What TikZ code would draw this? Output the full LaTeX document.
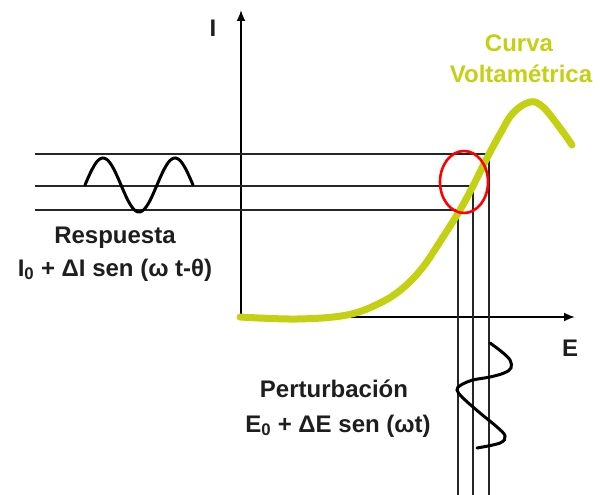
\documentclass[tikz,border=0pt]{standalone}
\usepackage{fontspec}
\setmainfont{Liberation Sans}
\usetikzlibrary{arrows.meta}
\definecolor{curvegreen}{RGB}{196,208,18}
\definecolor{txt}{RGB}{30,30,30}
\tikzset{
  guide/.style={line width=1.6pt, draw=black!85},
  axisline/.style={line width=1.8pt, draw=black, -{Latex[length=11pt,width=9pt]}},
  wave/.style={line width=3pt, draw=black, line cap=round},
  lbl/.style={font=\bfseries\fontsize{24}{30}\selectfont, text=txt, align=center, inner sep=0pt},
  glbl/.style={font=\bfseries\fontsize{24}{30}\selectfont, text=curvegreen, align=center, inner sep=0pt}
}
\begin{document}
\begin{tikzpicture}[x=1pt,y=-1pt]
\useasboundingbox (0,0) rectangle (600,495);
% axes
\coordinate (O) at (241,317);
\coordinate (Itop) at (241,10);
\coordinate (Eend) at (575,317);
\draw[axisline] (O) -- (Itop);
\draw[axisline] (O) -- (Eend);
\node[lbl, anchor=base] (Ilab) at (213,37) {I};
\node[lbl, anchor=base] (Elab) at (570,356) {E};
% guide lines
\coordinate (h1) at (35,154); \coordinate (c1) at (489,154); \coordinate (v1) at (489,495);
\coordinate (h2) at (35,186); \coordinate (c2) at (473,186); \coordinate (v2) at (473,495);
\coordinate (h3) at (35,210); \coordinate (c3) at (458,210); \coordinate (v3) at (458,495);
\draw[guide] (h1) -- (c1) -- (v1);
\draw[guide] (h2) -- (c2) -- (v2);
\draw[guide] (h3) -- (c3) -- (v3);
% response sine
\draw[wave] plot[domain=0:540, samples=80, variable=\t] ({85+\t/5},{185-27*sin(\t)});
% perturbation wave
\draw[wave] plot[smooth, tension=0.6] coordinates {(490,343) (502,352) (510,360) (511,368) (504,373) (490,377) (473,380) (461,385) (457,390) (463,398) (480,413) (497,427) (505,436) (500,443) (477,448)};
% voltammetric curve
\draw[line width=7pt, draw=curvegreen, line cap=round] plot[smooth, tension=0.6] coordinates {(240,317) (297,319) (347,315) (380,303) (403,288) (423,267) (443,237) (460,210) (473,186) (488,156) (500,134) (513,113) (530,102) (543,107) (560,128) (572,145)};
% red ellipse
\draw[red, line width=2.6pt] (464,182) ellipse [x radius=24, y radius=31];
% labels
\node[glbl, anchor=base] (curva) at (519,52) {Curva};
\node[glbl, anchor=base] (volt) at (521,82) {Voltamétrica};
\node[lbl, anchor=base] (resp) at (115,243) {Respuesta};
\node[lbl, anchor=base] (respf) at (115,276) {I\textsubscript{0} + ΔI sen (ω t-θ)};
\node[lbl, anchor=base] (pert) at (334,397) {Perturbación};
\node[lbl, anchor=base] (pertf) at (338,432) {E\textsubscript{0} + ΔE sen (ωt)};
\end{tikzpicture}
\end{document}
